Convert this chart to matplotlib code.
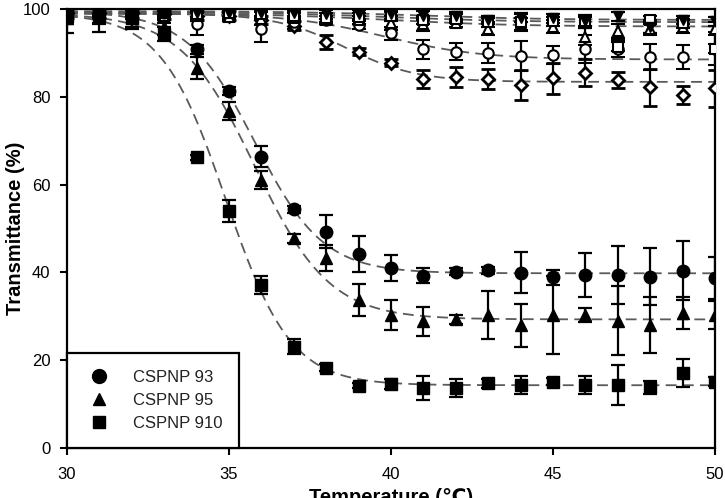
import numpy as np
import matplotlib
matplotlib.use('Agg')
import matplotlib.pyplot as plt
from matplotlib.lines import Line2D

plt.rcParams['font.family'] = ['Liberation Sans', 'DejaVu Sans']

# ---------------- data ----------------
temperature = [30, 31, 32, 33, 34, 35, 36, 37, 38, 39, 40,
               41, 42, 43, 44, 45, 46, 47, 48, 49, 50]

cspnp93 = [99.2, 99.2, 99.3, 99.4, 90.8, 81.3, 66.4, 54.4, 49.3, 44.2, 41.0,
           39.2, 40.2, 40.5, 39.9, 38.9, 39.4, 39.4, 39.0, 40.4, 38.7]
cspnp93_err = [1.0, 1.0, 1.0, 1.0, 1.0, 1.0, 2.5, 0.8, 3.8, 4.2, 3.0,
               1.7, 0.8, 0.8, 4.7, 1.7, 5.0, 6.5, 6.5, 6.8, 4.8]

cspnp95 = [98.0, 98.3, 98.5, 96.0, 86.5, 76.8, 61.0, 47.8, 43.3, 33.7, 30.3,
           28.9, 29.3, 30.3, 28.0, 30.3, 30.3, 29.0, 28.0, 30.8, 30.3]
cspnp95_err = [3.5, 3.5, 3.0, 2.0, 2.5, 2.0, 2.0, 1.0, 3.0, 3.6, 3.4,
               3.3, 1.0, 5.4, 4.9, 8.8, 1.6, 7.8, 6.4, 3.7, 3.2]

cspnp910 = [98.5, 98.5, 98.0, 94.3, 66.2, 54.0, 37.1, 23.1, 18.3, 14.2, 14.6,
            13.6, 13.7, 14.7, 14.3, 15.1, 14.3, 14.4, 13.8, 17.0, 15.1]
cspnp910_err = [2.0, 2.0, 2.0, 1.5, 0.5, 2.5, 2.0, 1.7, 0.8, 0.6, 1.2,
                2.7, 2.0, 1.0, 2.0, 0.8, 2.0, 4.5, 1.5, 3.2, 1.0]

open_circle = [98.5, 98.7, 98.0, 98.2, 96.5, 98.5, 95.5, 97.0, 97.5, 96.4, 94.5,
               90.8, 90.3, 89.9, 89.3, 89.5, 90.8, 91.0, 89.0, 89.0, 91.0]
open_circle_err = [1.5, 2.0, 2.0, 1.5, 2.5, 1.0, 3.0, 1.5, 1.0, 1.0, 1.5,
                   2.2, 2.0, 2.3, 3.4, 2.1, 3.2, 2.0, 3.0, 2.7, 3.8]

open_diamond = [99.0, 99.0, 99.0, 98.8, 98.5, 98.5, 97.5, 96.2, 92.5, 90.3, 87.8,
                84.0, 84.5, 84.0, 82.7, 84.2, 85.5, 83.8, 82.2, 80.4, 81.9]
open_diamond_err = [1.0, 1.0, 1.0, 1.0, 1.0, 1.0, 1.0, 1.0, 1.5, 0.8, 0.8,
                    2.0, 2.3, 2.3, 3.4, 3.6, 3.0, 1.9, 4.2, 2.1, 4.2]

open_triangle = [99.0, 99.0, 98.8, 98.5, 98.3, 98.2, 97.8, 98.0, 97.5, 97.5, 96.8,
                 96.5, 96.8, 95.5, 96.5, 96.0, 93.7, 95.0, 95.5, 96.0, 95.5]
open_triangle_err = [1.0, 1.0, 1.0, 1.0, 1.0, 1.0, 1.5, 1.0, 1.0, 1.0, 1.5,
                     1.5, 1.0, 1.5, 1.5, 1.5, 2.0, 1.5, 1.5, 1.5, 1.5]

open_square = [99.3, 99.3, 99.2, 99.0, 98.8, 99.0, 98.8, 98.5, 98.0, 98.2, 98.3,
               97.5, 97.8, 97.0, 97.1, 97.2, 97.2, 91.4, 97.5, 96.7, 91.0]
open_square_err = [1.0, 1.0, 1.0, 1.0, 1.0, 1.0, 1.0, 1.0, 1.0, 1.0, 1.0,
                   1.0, 1.0, 1.0, 1.8, 1.0, 1.0, 1.0, 1.0, 1.0, 1.0]

filled_down = [99.5, 99.5, 99.4, 99.3, 99.2, 99.2, 99.0, 99.0, 98.8, 98.8, 98.8,
               98.5, 98.3, 97.5, 98.0, 97.9, 97.2, 98.3, 96.0, 97.5, 97.2]
filled_down_err = [1.0, 1.0, 1.0, 1.0, 1.0, 1.0, 1.0, 1.0, 1.0, 1.0, 1.0,
                   1.0, 1.0, 1.0, 1.0, 1.0, 1.5, 1.0, 1.5, 1.0, 1.0]

legend_labels = ['CSPNP 93', 'CSPNP 95', 'CSPNP 910']

# sigmoidal (Boltzmann) fit parameters:
# order: CSPNP93, CSPNP95, CSPNP910, open circle, open diamond, open triangle, open square, filled down
fit_top = [99.5, 99.0, 99.0, 99.0, 99.0, 99.0, 99.3, 99.5]
fit_bottom = [39.8, 29.3, 14.3, 88.5, 83.4, 96.0, 97.0, 97.5]
fit_x50 = [35.8, 35.8, 34.9, 39.8, 38.6, 40.0, 40.0, 41.0]
fit_width = [1.05, 1.15, 1.0, 1.5, 1.1, 2.0, 2.0, 2.0]

# ---------------- figure ----------------
W, H = 725, 498
fig = plt.figure(figsize=(W / 100, H / 100), dpi=100)
ax = fig.add_axes([67 / W, 1 - 448 / H, (715 - 67) / W, (448 - 9) / H])

xs = np.linspace(30, 50, 400)
for top, bot, x50, wd in zip(fit_top, fit_bottom, fit_x50, fit_width):
    ys = bot + (top - bot) / (1 + np.exp((xs - x50) / wd))
    ax.plot(xs, ys, ls=(0, (6, 3.5)), color='#5a5a5a', lw=1.3, zorder=2)

ebkw = dict(ecolor='black', elinewidth=1.6, capsize=5, capthick=1.6, ls='none', zorder=3)

# background (unlabelled) series
ax.errorbar(temperature, open_diamond, yerr=open_diamond_err, marker='D', ms=6,
            mfc='white', mec='black', mew=2.0, **ebkw)
ax.errorbar(temperature, open_circle, yerr=open_circle_err, marker='o', ms=7.5,
            mfc='white', mec='black', mew=1.5, **ebkw)
ax.errorbar(temperature, open_triangle, yerr=open_triangle_err, marker='^', ms=7,
            mfc='white', mec='black', mew=1.5, **ebkw)
ax.errorbar(temperature, open_square, yerr=open_square_err, marker='s', ms=6.5,
            mfc='white', mec='black', mew=1.5, **ebkw)
ax.errorbar(temperature, filled_down, yerr=filled_down_err, marker='v', ms=7,
            mfc='black', mec='black', **ebkw)

# main series
ax.errorbar(temperature, cspnp93, yerr=cspnp93_err, marker='o', ms=9,
            mfc='black', mec='black', **ebkw)
ax.errorbar(temperature, cspnp95, yerr=cspnp95_err, marker='^', ms=9,
            mfc='black', mec='black', **ebkw)
ax.errorbar(temperature, cspnp910, yerr=cspnp910_err, marker='s', ms=8.5,
            mfc='black', mec='black', **ebkw)

ax.set_xlim(30, 50)
ax.set_ylim(0, 100)
ax.set_xticks([30, 35, 40, 45, 50])
ax.set_yticks([0, 20, 40, 60, 80, 100])
ax.tick_params(axis='both', direction='out', length=5, width=1.5, labelsize=12,
               top=False, right=False, colors='black')
ax.tick_params(axis='x', pad=9)
ax.tick_params(axis='y', pad=7)
for sp in ax.spines.values():
    sp.set_linewidth(1.6)
    sp.set_color('black')

fig.text(15.5 / W, 1 - 228 / H, 'Transmittance (%)', rotation=90, ha='center',
         va='center', fontsize=14.5, fontweight='bold')
fig.text(391 / W, 1 - 488 / H, 'Temperature (\u2103)', ha='center', va='top',
         fontsize=14.5, fontweight='bold')

handles = [Line2D([], [], marker=m, ls='none', color='black', ms=s)
           for m, s in zip(['o', '^', 's'], [10, 9, 9])]
leg = ax.legend(handles, legend_labels, loc='lower left', bbox_to_anchor=(0, 0),
                borderaxespad=0, frameon=True, fancybox=False, edgecolor='black',
                fontsize=12, handlelength=1.8, handletextpad=1.15, borderpad=1.0,
                labelspacing=0.5, framealpha=1)
leg.get_frame().set_linewidth(1.6)
for t in leg.get_texts():
    t.set_color('#222222')

fig.savefig('out.png', dpi=100)
